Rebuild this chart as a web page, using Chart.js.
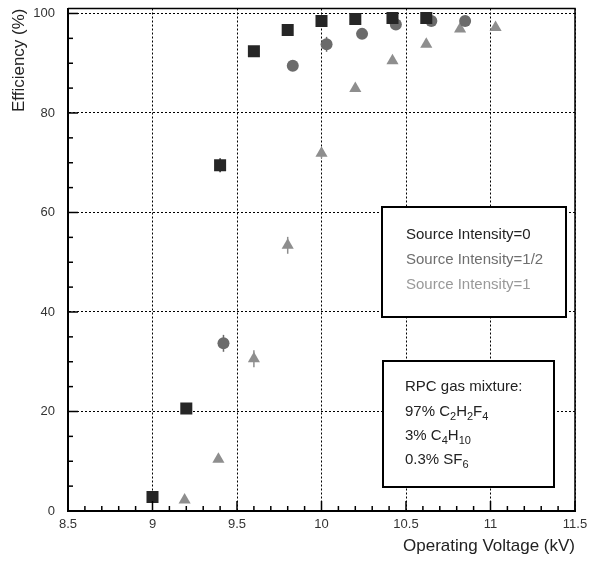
<!DOCTYPE html>
<html>
<head>
<meta charset="utf-8">
<script src="https://cdn.jsdelivr.net/npm/chart.js@4/dist/chart.umd.min.js"></script>
<style>
  html, body { margin: 0; padding: 0; background: #fff; }
</style>
</head>
<body>
<canvas id="effChart" width="601" height="563"></canvas>
<script>
// Source intensity = 0
const voltage0 = [9.0, 9.2, 9.4, 9.6, 9.8, 10.0, 10.2, 10.42, 10.62];
const eff0     = [2.8, 20.6, 69.5, 92.4, 96.7, 98.5, 98.9, 99.1, 99.1];
const err0     = [0, 1.0, 1.4, 0, 0, 0, 0, 0, 0];

// Source intensity = 1/2
const voltageHalf = [9.42, 9.83, 10.03, 10.24, 10.44, 10.65, 10.85];
const effHalf     = [33.7, 89.5, 93.8, 95.9, 97.8, 98.5, 98.5];
const errHalf     = [1.7, 0, 1.5, 0, 0, 0, 0];

// Source intensity = 1
const voltage1 = [9.19, 9.39, 9.6, 9.8, 10.0, 10.2, 10.42, 10.62, 10.82, 11.03];
const eff1     = [2.2, 10.4, 30.6, 53.4, 71.9, 84.9, 90.5, 93.8, 96.9, 97.2];
const err1     = [0, 0, 1.7, 1.7, 1.0, 0, 0, 0, 0, 0];

const xTicks = [8.5, 9, 9.5, 10, 10.5, 11, 11.5];
const yTicks = [0, 20, 40, 60, 80, 100];

const seriesLabels = ['Source Intensity=0', 'Source Intensity=1/2', 'Source Intensity=1'];
const gasTitle = 'RPC gas mixture:';
// [text, isSubscript]
const gasLines = [
  [['97% C', 0], ['2', 1], ['H', 0], ['2', 1], ['F', 0], ['4', 1]],
  [['3% C', 0], ['4', 1], ['H', 0], ['10', 1]],
  [['0.3% SF', 0], ['6', 1]]
];

const FONT = '"Liberation Sans", Arial, sans-serif';
const colors = ['#262626', '#6b6b6b', '#8e8e8e'];
const textColors = ['#222222', '#6e6e6e', '#999999'];

function toPoints(xs, ys) {
  return xs.map((x, i) => ({ x: x, y: ys[i] }));
}

const errorSets = [err0, errHalf, err1];

const errorBars = {
  id: 'errorBars',
  beforeDatasetsDraw(chart) {
    const ctx = chart.ctx;
    const ys = chart.scales.y;
    chart.data.datasets.forEach((ds, di) => {
      const meta = chart.getDatasetMeta(di);
      const errs = errorSets[di];
      ctx.save();
      ctx.strokeStyle = colors[di];
      ctx.lineWidth = 1.5;
      meta.data.forEach((pt, i) => {
        const e = errs[i];
        if (!e) return;
        const v = ds.data[i].y;
        ctx.beginPath();
        ctx.moveTo(pt.x, ys.getPixelForValue(v - e));
        ctx.lineTo(pt.x, ys.getPixelForValue(v + e));
        ctx.stroke();
      });
      ctx.restore();
    });
  }
};

const frameAndTicks = {
  id: 'frameAndTicks',
  afterDraw(chart) {
    const ctx = chart.ctx;
    const a = chart.chartArea;
    const xs = chart.scales.x, ys = chart.scales.y;
    ctx.save();
    ctx.strokeStyle = '#000';
    ctx.lineWidth = 1.5;
    // top and right frame
    ctx.beginPath();
    ctx.moveTo(a.left, a.top);
    ctx.lineTo(a.right, a.top);
    ctx.lineTo(a.right, a.bottom);
    ctx.stroke();
    // minor / major ticks on x
    for (let k = 85; k <= 115; k++) {
      const px = xs.getPixelForValue(k / 10);
      const len = (k % 5 === 0) ? 10 : 5;
      ctx.beginPath();
      ctx.moveTo(px, a.bottom);
      ctx.lineTo(px, a.bottom - len);
      ctx.stroke();
    }
    // minor / major ticks on y
    for (let v = 0; v <= 100; v += 5) {
      const py = ys.getPixelForValue(v);
      const len = (v % 20 === 0) ? 10 : 5;
      ctx.beginPath();
      ctx.moveTo(a.left, py);
      ctx.lineTo(a.left + len, py);
      ctx.stroke();
    }
    ctx.restore();

    // legend box
    ctx.save();
    ctx.fillStyle = '#fff';
    ctx.strokeStyle = '#000';
    ctx.lineWidth = 2;
    ctx.fillRect(382, 207, 184, 110);
    ctx.strokeRect(382, 207, 184, 110);
    ctx.font = '15px ' + FONT;
    ctx.textBaseline = 'middle';
    ctx.textAlign = 'left';
    seriesLabels.forEach((lab, i) => {
      ctx.fillStyle = textColors[i];
      ctx.fillText(lab, 406, 235 + i * 25);
    });

    // gas mixture box
    ctx.fillStyle = '#fff';
    ctx.fillRect(383, 361, 171, 126);
    ctx.strokeRect(383, 361, 171, 126);
    ctx.fillStyle = '#222';
    ctx.font = '15px ' + FONT;
    ctx.fillText(gasTitle, 405, 387);
    gasLines.forEach((line, i) => {
      let x = 405;
      const y = 412 + i * 24;
      line.forEach(([txt, sub]) => {
        ctx.font = (sub ? '11px ' : '15px ') + FONT;
        ctx.fillText(txt, x, sub ? y + 5 : y);
        x += ctx.measureText(txt).width;
      });
    });
    ctx.restore();
  }
};

new Chart(document.getElementById('effChart').getContext('2d'), {
  type: 'scatter',
  data: {
    datasets: [
      {
        label: seriesLabels[0],
        data: toPoints(voltage0, eff0),
        pointStyle: 'rect',
        pointRadius: 8.5,
        backgroundColor: colors[0],
        borderColor: colors[0],
        borderWidth: 0
      },
      {
        label: seriesLabels[1],
        data: toPoints(voltageHalf, effHalf),
        pointStyle: 'circle',
        pointRadius: 6,
        backgroundColor: colors[1],
        borderColor: colors[1],
        borderWidth: 0
      },
      {
        label: seriesLabels[2],
        data: toPoints(voltage1, eff1),
        pointStyle: 'triangle',
        pointRadius: 7,
        backgroundColor: colors[2],
        borderColor: colors[2],
        borderWidth: 0
      }
    ]
  },
  options: {
    responsive: false,
    animation: false,
    layout: { padding: { left: 0, right: 26, top: 4, bottom: 0 } },
    plugins: {
      legend: { display: false },
      tooltip: { enabled: false }
    },
    scales: {
      x: {
        type: 'linear',
        min: 8.5,
        max: 11.5,
        afterBuildTicks: (scale) => { scale.ticks = xTicks.map(v => ({ value: v })); },
        afterFit: (scale) => { scale.height = 52; },
        ticks: {
          padding: 6,
          color: '#333',
          font: { family: FONT, size: 13 },
          callback: (v) => String(v)
        },
        grid: { color: '#000', lineWidth: 1, drawTicks: false },
        border: { display: true, color: '#000', width: 2, dash: [2, 2] },
        title: {
          display: true,
          text: 'Operating Voltage (kV)',
          align: 'end',
          color: '#222',
          font: { family: FONT, size: 17 },
          padding: { top: 0, bottom: 6 }
        }
      },
      y: {
        type: 'linear',
        min: 0,
        max: 101,
        afterBuildTicks: (scale) => { scale.ticks = yTicks.map(v => ({ value: v })); },
        afterFit: (scale) => {
          scale.width = 68;
          scale.paddingTop = 0;
          scale.paddingBottom = 0;
        },
        ticks: {
          padding: 13,
          color: '#333',
          font: { family: FONT, size: 13 },
          callback: (v) => String(v)
        },
        grid: { color: '#000', lineWidth: 1, drawTicks: false },
        border: { display: true, color: '#000', width: 2, dash: [2, 2] },
        title: {
          display: true,
          text: 'Efficiency (%)',
          align: 'end',
          color: '#222',
          font: { family: FONT, size: 17 },
          padding: { top: 9, bottom: 0 }
        }
      }
    }
  },
  plugins: [errorBars, frameAndTicks]
});
</script>
</body>
</html>
